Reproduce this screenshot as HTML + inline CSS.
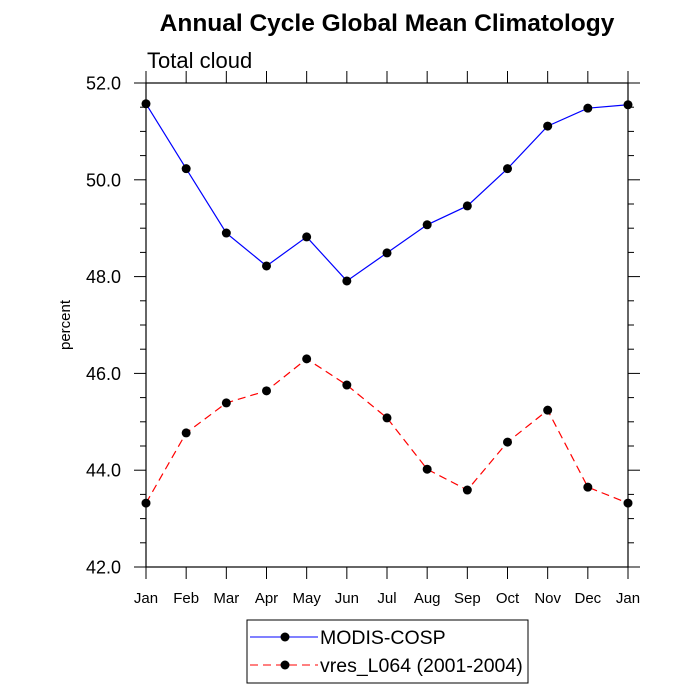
<!DOCTYPE html>
<html><head><meta charset="utf-8"><style>body{margin:0;background:#fff}svg{display:block;font-family:"Liberation Sans",sans-serif}</style></head>
<body>
<svg id="c" width="700" height="700">
<text x="387" y="31" font-size="24.5" font-weight="bold" text-anchor="middle">Annual Cycle Global Mean Climatology</text>
<text x="147" y="68" font-size="22">Total cloud</text>
<text transform="translate(70,325) rotate(-90)" font-size="15" text-anchor="middle">percent</text>
<g id="axes"></g><g id="series"></g>
<g>
<rect x="247" y="620" width="281" height="63" fill="none" stroke="#000"/>
<g><line x1="250" y1="637" x2="318" y2="637" stroke="#00f"/><circle cx="285" cy="637" r="4.5"/><text x="320" y="644" font-size="19.5">MODIS-COSP</text></g>
<g><line x1="250" y1="665" x2="318" y2="665" stroke="#f00" stroke-dasharray="8,5"/><circle cx="285" cy="665" r="4.5"/><text x="320" y="672" font-size="19.5">vres_L064 (2001-2004)</text></g>
</g>
</svg>
<script>
const months=["Jan","Feb","Mar","Apr","May","Jun","Jul","Aug","Sep","Oct","Nov","Dec","Jan"];
const modis=[51.57,50.23,48.90,48.22,48.82,47.91,48.49,49.07,49.46,50.23,51.11,51.48,51.55];
const vres=[43.32,44.77,45.39,45.64,46.30,45.76,45.08,44.02,43.59,44.58,45.24,43.65,43.32];
const yTicks=["42.0","44.0","46.0","48.0","50.0","52.0"];
const L=146,R=628,T=83,B=567,ymin=42,ymax=52;
const x=i=>L+(R-L)*i/(months.length-1);
const y=v=>B-(v-ymin)/(ymax-ymin)*(B-T);
const NS="http://www.w3.org/2000/svg";
function mk(t,a,p){const e=document.createElementNS(NS,t);for(const k in a)e.setAttribute(k,a[k]);p.appendChild(e);return e;}
const ax=document.getElementById('axes');
const fr=mk('rect',{x:L,y:T,width:R-L,height:B-T,fill:'none',stroke:'#000','stroke-width':1.2},ax);


for(let v=ymin;v<=ymax+1e-9;v+=0.5){const maj=Math.abs(v-Math.round(v/2)*2)<1e-9;const len=maj?12:6;
mk('line',{x1:L-len,y1:y(v),x2:L,y2:y(v),stroke:'#000'},ax);mk('line',{x1:R,y1:y(v),x2:R+len,y2:y(v),stroke:'#000'},ax);}
yTicks.forEach(s=>{const t=mk('text',{x:121,y:y(+s)+6.5,'font-size':18,'text-anchor':'end'},ax);t.textContent=s;

});
months.forEach((m,i)=>{mk('line',{x1:x(i),y1:T-12,x2:x(i),y2:T,stroke:'#000'},ax);mk('line',{x1:x(i),y1:B,x2:x(i),y2:B+12,stroke:'#000'},ax);
const t=mk('text',{x:x(i),y:603,'font-size':15,'text-anchor':'middle'},ax);t.textContent=m;

});
const sg=document.getElementById('series');
function draw(d,col,dash,name){const g=mk('g',{},sg);


mk('polyline',{points:d.map((v,i)=>x(i)+','+y(v)).join(' '),fill:'none',stroke:col,'stroke-width':1.2,'stroke-dasharray':dash},g);
d.forEach((v,i)=>{const c=mk('circle',{cx:x(i),cy:y(v),r:4.5,fill:'#000'},g);

});}
draw(modis,'#00f','none','series-modis-cosp');
draw(vres,'#f00','8,5','series-vres-l064');
</script>
</body></html>
